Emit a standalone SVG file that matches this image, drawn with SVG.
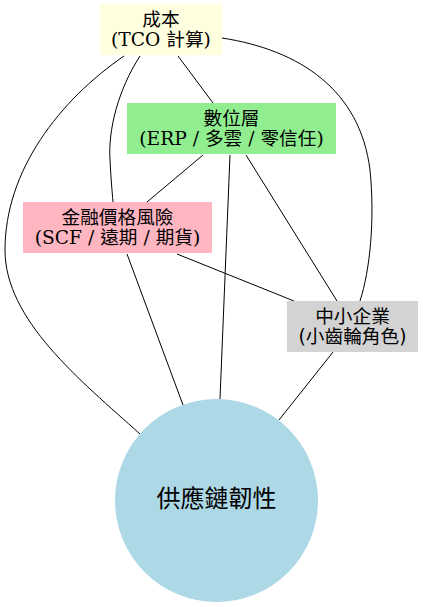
<svg xmlns="http://www.w3.org/2000/svg" width="423" height="607" viewBox="0 0 423 607">
<style>
.t{font-family:"DejaVu Serif","Noto Sans CJK TC",serif;font-size:18.67px;text-anchor:middle;fill:#000}
.s{font-family:"DejaVu Sans","Noto Sans CJK TC",sans-serif;font-size:18.67px;text-anchor:middle;fill:#000}
.c{font-family:"Noto Sans CJK TC","DejaVu Sans",sans-serif;font-size:24px;text-anchor:middle;fill:#000}
#edges path{fill:none;stroke:#000;stroke-width:1}
</style>
<rect width="423" height="607" fill="#fff"/>
<g id="edges">
<path d="M124,56 C60,100 5,170 5,250 C5,320 80,380 140,434"/>
<path d="M140,56 C118,90 108,130 110,160 C111,180 112,190 113,202"/>
<path d="M178,56 L213,103"/>
<path d="M222,38 C300,50 360,90 370,170 C375,220 370,270 360,301"/>
<path d="M203,155 L147,202"/>
<path d="M230,155 L220,399"/>
<path d="M246,155 L337,301"/>
<path d="M177,254 L294,301"/>
<path d="M127,254 L183,405"/>
<path d="M333,352 L279,420"/>
</g>
<g id="cost">
<rect x="100" y="4" width="122" height="51" fill="#FFFFE0"/>
<text class="t" x="161" y="26">成本</text>
<text class="t" x="161" y="46">(TCO 計算)</text>
</g>
<g id="digital">
<rect x="127" y="103" width="209" height="51" fill="#90EE90"/>
<text class="t" x="231.5" y="125">數位層</text>
<text class="t" x="231.5" y="145">(ERP / 多雲 / 零信任)</text>
</g>
<g id="finance">
<rect x="23" y="202" width="189" height="51" fill="#FFB6C1"/>
<text class="t" x="117.5" y="224">金融價格風險</text>
<text class="t" x="117.5" y="244">(SCF / 遠期 / 期貨)</text>
</g>
<g id="sme">
<rect x="287" y="301" width="131" height="51" fill="#D3D3D3"/>
<text class="s" x="352.5" y="323">中小企業</text>
<text class="s" x="352.5" y="343">(小齒輪角色)</text>
</g>
<g id="resilience">
<circle cx="216.5" cy="500.5" r="101.5" fill="#ADD8E6"/>
<text class="c" x="216.5" y="507">供應鏈韌性</text>
</g>
</svg>
